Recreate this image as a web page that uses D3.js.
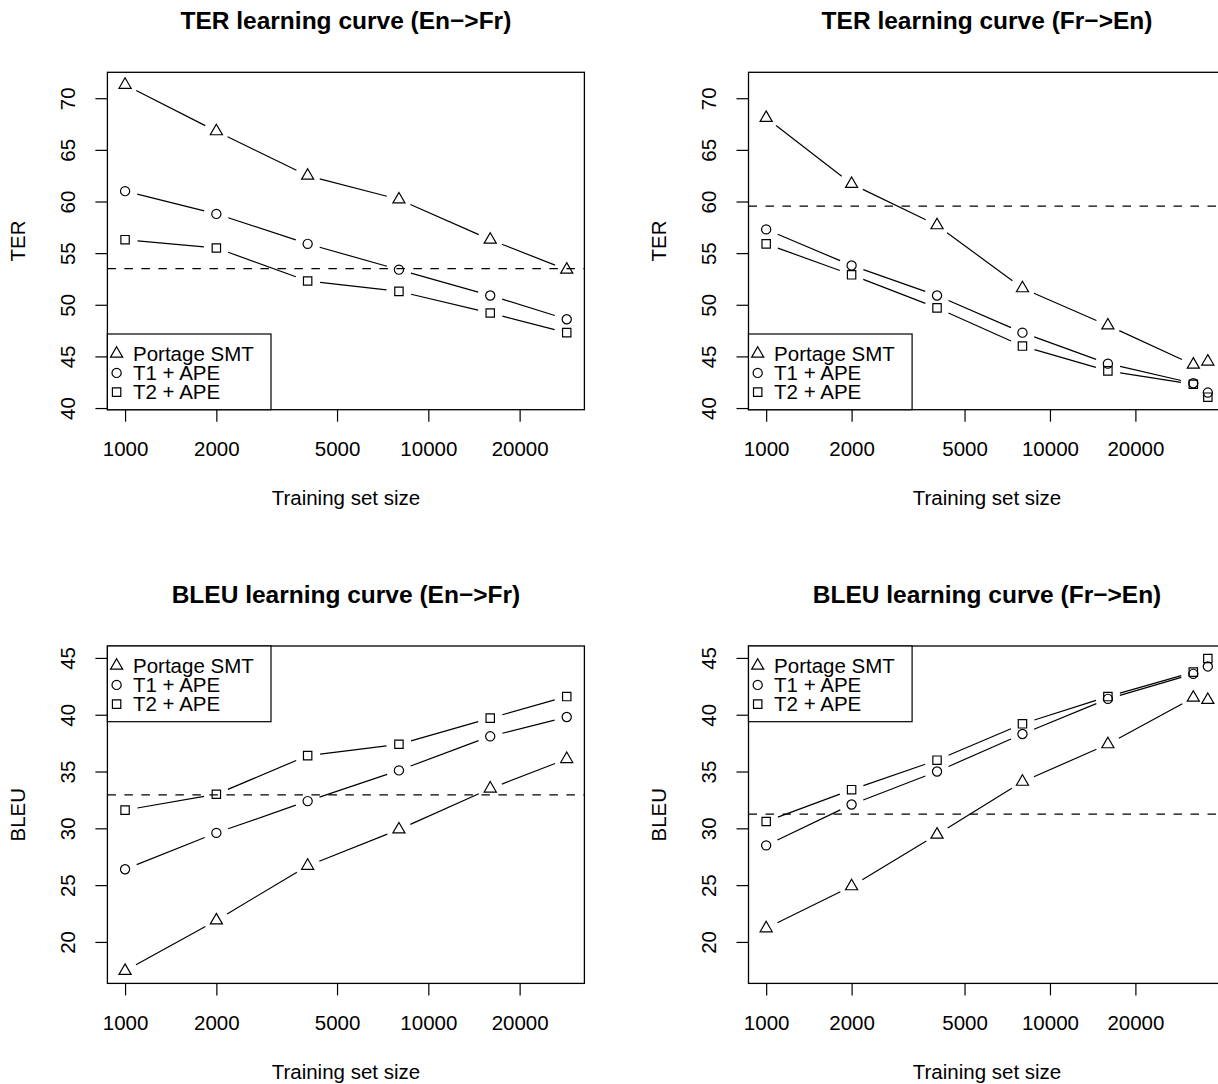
<!DOCTYPE html>
<html><head><meta charset="utf-8">
<script src="https://cdn.jsdelivr.net/npm/d3@7"></script>
<style>
body{margin:0;background:#fff}
svg{display:block}
text{font-family:"Liberation Sans",Arial,Helvetica,sans-serif;fill:#000}
</style>
</head><body>
<svg id="chart" width="1218" height="1084"></svg>
<script>
// ---------------- data ----------------
const seriesNames = ["Portage SMT", "T1 + APE", "T2 + APE"];
const sizesEnFr = [1000, 2000, 4000, 8000, 16000, 28600];
const sizesFrEn = [1000, 2000, 4000, 8000, 16000, 32000, 36000];

const terEnFrSMT = [71.3, 66.8, 62.5, 60.2, 56.3, 53.4];
const terEnFrT1  = [61.0, 58.8, 55.9, 53.4, 50.9, 48.6];
const terEnFrT2  = [56.3, 55.5, 52.3, 51.3, 49.2, 47.3];
const terEnFrBaseline = 53.5;

const terFrEnSMT = [68.1, 61.7, 57.7, 51.6, 48.0, 44.2, 44.5];
const terFrEnT1  = [57.3, 53.8, 50.9, 47.3, 44.3, 42.4, 41.5];
const terFrEnT2  = [55.9, 52.9, 49.7, 46.0, 43.6, 42.3, 41.05];
const terFrEnBaseline = 59.55;

const bleuEnFrSMT = [17.45, 21.9, 26.7, 29.9, 33.5, 36.1];
const bleuEnFrT1  = [26.4, 29.6, 32.4, 35.1, 38.1, 39.8];
const bleuEnFrT2  = [31.6, 33.0, 36.4, 37.4, 39.7, 41.6];
const bleuEnFrBaseline = 32.95;

const bleuFrEnSMT = [21.2, 24.9, 29.45, 34.1, 37.4, 41.5, 41.3];
const bleuFrEnT1  = [28.5, 32.1, 35.0, 38.3, 41.4, 43.6, 44.25];
const bleuFrEnT2  = [30.6, 33.4, 36.0, 39.2, 41.6, 43.75, 44.95];
const bleuFrEnBaseline = 31.25;

const xTicks = [1000, 2000, 5000, 10000, 20000];
const terTicks = [40, 45, 50, 55, 60, 65, 70];
const bleuTicks = [20, 25, 30, 35, 40, 45];
const titles = ["TER learning curve (En\u2212>Fr)", "TER learning curve (Fr\u2212>En)",
                "BLEU learning curve (En\u2212>Fr)", "BLEU learning curve (Fr\u2212>En)"];
const xLabel = "Training set size";
const yLabels = ["TER", "BLEU"];

// ---------------- layout ----------------
const svg = d3.select("#chart");
const W = 477, H = 337.4;
const AX = 20.5, TITLE = 24.5;
const GAP = 12.5;
const XC = 4.5; // symbol base size

function extendLin(vals){
  const [lo, hi] = d3.extent(vals); const p = 0.04*(hi-lo); return [lo-p, hi+p];
}
function extendLog(vals){
  const lo = Math.log10(d3.min(vals)), hi = Math.log10(d3.max(vals)); const p = 0.04*(hi-lo);
  return [Math.pow(10, lo-p), Math.pow(10, hi+p)];
}

const terAll = [...terEnFrSMT, ...terEnFrT1, ...terEnFrT2, ...terFrEnSMT, ...terFrEnT1, ...terFrEnT2];
const bleuAll = [...bleuEnFrSMT, ...bleuEnFrT1, ...bleuEnFrT2, ...bleuFrEnSMT, ...bleuFrEnT1, ...bleuFrEnT2];

const panels = [
  {x0:107.4, y0:72.3, sizes:sizesEnFr, series:[terEnFrSMT, terEnFrT1, terEnFrT2], base:terEnFrBaseline, yDom:extendLin(terAll), yTicks:terTicks, title:titles[0], ylab:yLabels[0], legendBottom:true},
  {x0:748.5, y0:72.3, sizes:sizesFrEn, series:[terFrEnSMT, terFrEnT1, terFrEnT2], base:terFrEnBaseline, yDom:extendLin(terAll), yTicks:terTicks, title:titles[1], ylab:yLabels[0], legendBottom:true},
  {x0:107.4, y0:646, sizes:sizesEnFr, series:[bleuEnFrSMT, bleuEnFrT1, bleuEnFrT2], base:bleuEnFrBaseline, yDom:extendLin(bleuAll), yTicks:bleuTicks, title:titles[2], ylab:yLabels[1], legendBottom:false},
  {x0:748.5, y0:646, sizes:sizesFrEn, series:[bleuFrEnSMT, bleuFrEnT1, bleuFrEnT2], base:bleuFrEnBaseline, yDom:extendLin(bleuAll), yTicks:bleuTicks, title:titles[3], ylab:yLabels[1], legendBottom:false}
];

function symbolPath(k){
  if (k === 0){ const r = 1.5551*XC, hw = 1.3468*XC, yc = 0.7776*XC;
    return `M0,${-r}L${hw},${yc}L${-hw},${yc}Z`; }
  if (k === 1){ const r = XC*1.02; return `M${r},0A${r},${r} 0 1,1 ${-r},0A${r},${r} 0 1,1 ${r},0Z`; }
  const s = 0.93*XC; return `M${-s},${-s}H${s}V${s}H${-s}Z`;
}

panels.forEach(p => {
  const g = svg.append("g");
  const x = d3.scaleLog().domain(extendLog(p.sizes)).range([p.x0, p.x0+W]);
  const y = d3.scaleLinear().domain(p.yDom).range([p.y0+H, p.y0]);
  const clipId = "clip" + Math.round(p.x0) + "_" + Math.round(p.y0);
  svg.append("clipPath").attr("id", clipId).append("rect")
    .attr("x", p.x0).attr("y", p.y0).attr("width", W).attr("height", H);

  // x axis
  const xAxis = g.append("g").attr("transform", `translate(0,${p.y0+H})`)
    .call(d3.axisBottom(x).tickValues(xTicks).tickFormat(d3.format("d")).tickSize(12).tickPadding(0));
  xAxis.select(".domain").remove();
  xAxis.selectAll("line").attr("stroke", "#000").attr("stroke-width", 1.2);
  xAxis.selectAll("text").attr("y", 46.3).attr("dy", 0).style("font-size", AX+"px")
    .style("font-family", '"Liberation Sans",Arial,sans-serif').attr("fill", "#000");

  // y axis
  const yAxis = g.append("g").attr("transform", `translate(${p.x0},0)`)
    .call(d3.axisLeft(y).tickValues(p.yTicks).tickFormat(d3.format("d")).tickSize(12).tickPadding(0));
  yAxis.select(".domain").remove();
  yAxis.selectAll("line").attr("stroke", "#000").attr("stroke-width", 1.2);
  yAxis.selectAll("text").attr("x", null).attr("dy", null)
    .attr("transform", "translate(-32.4,0) rotate(-90)")
    .attr("text-anchor", "middle").attr("y", 0)
    .style("font-size", AX+"px").style("font-family", '"Liberation Sans",Arial,sans-serif').attr("fill", "#000");

  // box
  g.append("rect").attr("x", p.x0).attr("y", p.y0).attr("width", W).attr("height", H)
    .attr("fill", "none").attr("stroke", "#000").attr("stroke-width", 1.3);

  // title & labels
  g.append("text").attr("x", p.x0 + W/2).attr("y", p.y0 - 43).attr("text-anchor", "middle")
    .style("font-size", TITLE+"px").style("font-weight", "bold").text(p.title);
  g.append("text").attr("x", p.x0 + W/2).attr("y", p.y0 + H + 95.6).attr("text-anchor", "middle")
    .style("font-size", AX+"px").text(xLabel);
  g.append("text").attr("transform", `translate(${p.x0 - 82.4},${p.y0 + H/2}) rotate(-90)`)
    .attr("text-anchor", "middle").style("font-size", AX+"px").text(p.ylab);

  const plot = g.append("g").attr("clip-path", `url(#${clipId})`);

  // baseline
  plot.append("line").attr("x1", p.x0).attr("x2", p.x0 + W)
    .attr("y1", y(p.base)).attr("y2", y(p.base))
    .attr("stroke", "#000").attr("stroke-width", 1.2).attr("stroke-dasharray", "8.5,8.5");

  // series: type "b" (points with broken lines)
  p.series.forEach((vals, k) => {
    const pts = vals.map((v, i) => [x(p.sizes[i]), y(v)]);
    for (let i = 1; i < pts.length; i++){
      const [ax, ay] = pts[i-1], [bx, by] = pts[i];
      const d = Math.hypot(bx-ax, by-ay);
      if (d <= 2*GAP) continue;
      const f = GAP/d;
      plot.append("line")
        .attr("x1", ax + f*(bx-ax)).attr("y1", ay + f*(by-ay))
        .attr("x2", bx - f*(bx-ax)).attr("y2", by - f*(by-ay))
        .attr("stroke", "#000").attr("stroke-width", 1.2);
    }
    plot.selectAll(null).data(pts).enter().append("path")
      .attr("transform", d => `translate(${d[0]},${d[1]})`)
      .attr("d", symbolPath(k)).attr("fill", "none").attr("stroke", "#000").attr("stroke-width", 1.2);
  });

  // legend
  const lw = 163.6, lh = 75.7;
  const ly = p.legendBottom ? p.y0 + H - lh : p.y0;
  const lg = g.append("g");
  lg.append("rect").attr("x", p.x0).attr("y", ly).attr("width", lw).attr("height", lh)
    .attr("fill", "#fff").attr("stroke", "#000").attr("stroke-width", 1.2);
  seriesNames.forEach((name, k) => {
    const cy = ly + 19.7 + k*19.2;
    lg.append("path").attr("transform", `translate(${p.x0 + 9.2},${cy})`)
      .attr("d", symbolPath(k)).attr("fill", "none").attr("stroke", "#000").attr("stroke-width", 1.2);
    lg.append("text").attr("x", p.x0 + 25.6).attr("y", cy).attr("dy", "0.36em")
      .style("font-size", AX+"px").text(name);
  });
});
</script>
</body></html>
